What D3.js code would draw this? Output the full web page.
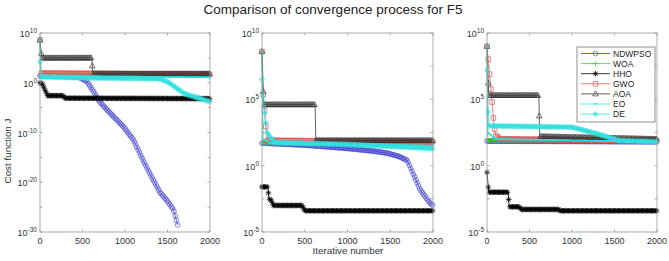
<!DOCTYPE html>
<html><head><meta charset="utf-8">
<script src="https://cdn.jsdelivr.net/npm/d3@7"></script>
<style>
body{margin:0;background:#fff;}
svg{font-family:"Liberation Sans",Arial,sans-serif;}
</style></head><body>
<svg id="chart" width="669" height="261"></svg>
<script>
const algorithms = ['NDWPSO','WOA','HHO','GWO','AOA','EO','DE'];
const xTicks = [0, 500, 1000, 1500, 2000];
const yTicksF1 = [-30, -20, -10, 0, 10];   // exponents of 10
const yTicksF2 = [-5, 0, 5, 10];

// each series: [iteration, log10(cost)]
// panel 1
const p1_NDWPSO = [[0,1.4],[450,1.2],[550,0.3],[620,-1.5],[700,-3.8],[820,-6],[980,-8.8],[1100,-11.5],[1210,-15.5],[1300,-18.5],[1410,-22],[1500,-23.8],[1570,-25.5],[1620,-28.6]];
const p1_WOA    = [[0,8.6],[10,1.6],[2000,1.6]];
const p1_HHO    = [[0,0],[30,-0.3],[60,-1.5],[90,-2.6],[270,-2.6],[290,-3.1],[2000,-3.2]];
const p1_GWO    = [[0,8.6],[10,1.9],[2000,1.7]];
const p1_AOA    = [[0,8.6],[20,5],[610,5],[620,1.8],[2000,1.8]];
const p1_EO     = [[0,8.6],[10,1.3],[2000,1.1]];
const p1_DE     = [[0,4.2],[15,1.2],[500,1.0],[1400,0.8],[1500,0.2],[1600,-1],[1700,-2.2],[1850,-3],[2000,-3.8]];
// panel 2
const p2_NDWPSO = [[0,1.7],[500,1.55],[1000,1.3],[1300,1.1],[1460,0.95],[1600,0.7],[1700,0.4],[1760,-0.5],[1850,-1.8],[1960,-2.8],[2000,-3.0]];
const p2_WOA    = [[0,8.6],[10,1.7],[2000,1.7]];
const p2_HHO    = [[0,-1.6],[70,-1.6],[80,-2.5],[110,-2.6],[130,-3.0],[470,-3.0],[500,-3.4],[2000,-3.4]];
const p2_GWO    = [[0,8.6],[10,5.8],[40,3.3],[60,1.9],[2000,1.8]];
const p2_AOA    = [[0,8.6],[20,4.6],[620,4.6],[630,1.9],[2000,1.9]];
const p2_EO     = [[0,8.6],[10,2],[100,1.7],[2000,1.5]];
const p2_DE     = [[0,6.5],[30,4],[60,2.5],[90,2.2],[150,1.75],[1000,1.6],[2000,1.3]];
// panel 3
const p3_NDWPSO = [[0,1.85],[2000,1.8]];
const p3_WOA    = [[0,9],[10,1.9],[2000,1.85]];
const p3_HHO    = [[0,-0.5],[20,-2.0],[250,-2.0],[260,-3.1],[380,-3.1],[400,-3.3],[840,-3.3],[860,-3.4],[2000,-3.4]];
const p3_GWO    = [[0,9],[20,7.7],[40,6.1],[60,4.8],[80,3.2],[100,2.3],[150,2.0],[2000,1.9]];
const p3_AOA    = [[0,9],[20,5.3],[610,5.3],[620,2.2],[2000,2.0]];
const p3_EO     = [[0,9],[10,2.5],[100,2],[2000,1.8]];
const p3_DE     = [[0,7.2],[20,3.0],[1000,2.9],[1300,2.4],[1550,1.9],[2000,1.8]];

const panels = [
  {x0: 40,  x1: 210, yTicks: yTicksF1, minor: 5,   series: [p1_NDWPSO,p1_WOA,p1_HHO,p1_GWO,p1_AOA,p1_EO,p1_DE]},
  {x0: 262, x1: 433, yTicks: yTicksF2, minor: 2.5, series: [p2_NDWPSO,p2_WOA,p2_HHO,p2_GWO,p2_AOA,p2_EO,p2_DE]},
  {x0: 487, x1: 657, yTicks: yTicksF2, minor: 2.5, series: [p3_NDWPSO,p3_WOA,p3_HHO,p3_GWO,p3_AOA,p3_EO,p3_DE]}
];
const plotTop = 33, plotBottom = 232;
const markerStep = 15;

const styles = {
  NDWPSO: {color: '#3a3acc', marker: 'circle'},
  WOA:    {color: '#3ccf3c', marker: 'plus'},
  HHO:    {color: '#000000', marker: 'star'},
  GWO:    {color: '#e05a5a', marker: 'square'},
  AOA:    {color: '#3a3a3a', marker: 'triangle'},
  EO:     {color: '#1fe3e3', marker: 'dot'},
  DE:     {color: '#33e0e0', marker: 'star'}
};

const markerPaths = {
  plus: 'M-2.5,0H2.5M0,-2.5V2.5',
  star: 'M-2.8,0H2.8M0,-2.8V2.8M-2,-2L2,2M-2,2L2,-2',
  square: 'M-2.3,-2.3H2.3V2.3H-2.3Z',
  triangle: 'M0,-3L2.8,2H-2.8Z'
};

function drawMarker(g, kind, color, x, y){
  if (kind == 'circle'){
    g.append('circle').attr('cx', x).attr('cy', y).attr('r', 2.4)
      .attr('fill', 'none').attr('stroke', color).attr('stroke-width', 0.6);
  } else if (kind == 'dot'){
    g.append('circle').attr('cx', x).attr('cy', y).attr('r', 1)
      .attr('fill', color);
  } else {
    g.append('path').attr('d', markerPaths[kind]).attr('transform', `translate(${x},${y})`)
      .attr('fill', 'none').attr('stroke', color).attr('stroke-width', kind == 'star' ? 0.8 : 0.7);
  }
}

// value of a series at iteration it (for marker placement)
function valueAt(pts, it){
  let v = null;
  for (let k = 0; k < pts.length; k++){
    if (pts[k][0] <= it) v = pts[k][1];
    if (pts[k][0] > it && k > 0){
      const [a, va] = pts[k-1], [b, vb] = pts[k];
      return va + (vb - va) * (it - a) / (b - a);
    }
  }
  return v;
}

const svg = d3.select('#chart');
const textColor = '#333';
const frameColor = '#9a9a9a';

svg.append('text').attr('x', 333).attr('y', 14).attr('text-anchor', 'middle')
  .attr('font-size', 13.5).attr('fill', '#222')
  .text('Comparison of convergence process for F5');

panels.forEach((p, pi) => {
  const x = d3.scaleLinear().domain([0, 2000]).range([p.x0, p.x1]);
  const yMin = p.yTicks[0], yMax = p.yTicks[p.yTicks.length-1];
  const y = d3.scaleLog().domain([Math.pow(10, yMin), Math.pow(10, yMax)]).range([plotBottom, plotTop]);
  const ly = (e) => y(Math.pow(10, e));

  const g = svg.append('g');
  const clipId = 'clip' + pi;
  g.append('clipPath').attr('id', clipId).append('rect')
    .attr('x', p.x0 - 4).attr('y', plotTop - 4).attr('width', p.x1 - p.x0 + 8).attr('height', plotBottom - plotTop + 8);

  const plot = g.append('g').attr('clip-path', `url(#${clipId})`);
  const line = d3.line().x(d => x(d[0])).y(d => ly(d[1]));

  p.series.forEach((pts, si) => {
    const st = styles[algorithms[si]];
    plot.append('path').attr('d', line(pts)).attr('fill', 'none')
      .attr('stroke', st.color).attr('stroke-width', 0.8);
    const mg = plot.append('g');
    const last = pts[pts.length-1][0];
    for (let it = 0; it <= last; it += markerStep){
      drawMarker(mg, st.marker, st.color, x(it), ly(valueAt(pts, it)));
    }
  });

  // frame
  g.append('rect').attr('x', p.x0).attr('y', plotTop).attr('width', p.x1 - p.x0).attr('height', plotBottom - plotTop)
    .attr('fill', 'none').attr('stroke', frameColor).attr('stroke-width', 0.8);

  // x ticks
  xTicks.forEach(t => {
    const xx = x(t);
    g.append('line').attr('x1', xx).attr('x2', xx).attr('y1', plotBottom).attr('y2', plotBottom - 2.5).attr('stroke', frameColor).attr('stroke-width', 0.8);
    g.append('line').attr('x1', xx).attr('x2', xx).attr('y1', plotTop).attr('y2', plotTop + 2.5).attr('stroke', frameColor).attr('stroke-width', 0.8);
    g.append('text').attr('x', xx).attr('y', 244).attr('text-anchor', 'middle')
      .attr('font-size', 9).attr('fill', textColor).text(t);
  });

  // y ticks (minor every p.minor decades, labels at yTicks)
  for (let e = yMin; e <= yMax + 1e-9; e += p.minor){
    const yy = ly(e);
    g.append('line').attr('x1', p.x0).attr('x2', p.x0 + 2.5).attr('y1', yy).attr('y2', yy).attr('stroke', frameColor).attr('stroke-width', 0.8);
    g.append('line').attr('x1', p.x1).attr('x2', p.x1 - 2.5).attr('y1', yy).attr('y2', yy).attr('stroke', frameColor).attr('stroke-width', 0.8);
  }
  p.yTicks.forEach(e => {
    const yy = ly(e);
    const t = g.append('text').attr('x', p.x0 - 3).attr('y', yy + 4).attr('text-anchor', 'end')
      .attr('font-size', 9).attr('fill', textColor);
    t.append('tspan').text('10');
    t.append('tspan').attr('dy', -4).attr('font-size', 6.5).text(e);
  });
});

// axis labels
svg.append('text').attr('transform', 'translate(11,151) rotate(-90)').attr('text-anchor', 'middle')
  .attr('font-size', 9.8).attr('fill', textColor).text('Cost function J');
svg.append('text').attr('x', 348).attr('y', 254).attr('text-anchor', 'middle')
  .attr('font-size', 9.8).attr('fill', textColor).text('Iterative number');

// legend
const leg = svg.append('g');
leg.append('rect').attr('x', 577).attr('y', 47).attr('width', 78).attr('height', 75)
  .attr('fill', '#fff').attr('stroke', '#444').attr('stroke-width', 0.6);
algorithms.forEach((name, i) => {
  const st = styles[name];
  const yy = 53.5 + i * 10.1;
  leg.append('line').attr('x1', 581).attr('x2', 610).attr('y1', yy).attr('y2', yy)
    .attr('stroke', st.color).attr('stroke-width', 0.8);
  drawMarker(leg, st.marker, st.color, 595.5, yy);
  leg.append('text').attr('x', 613).attr('y', yy + 3).attr('font-size', 8.5).attr('fill', '#222').text(name);
});
</script>
</body></html>
